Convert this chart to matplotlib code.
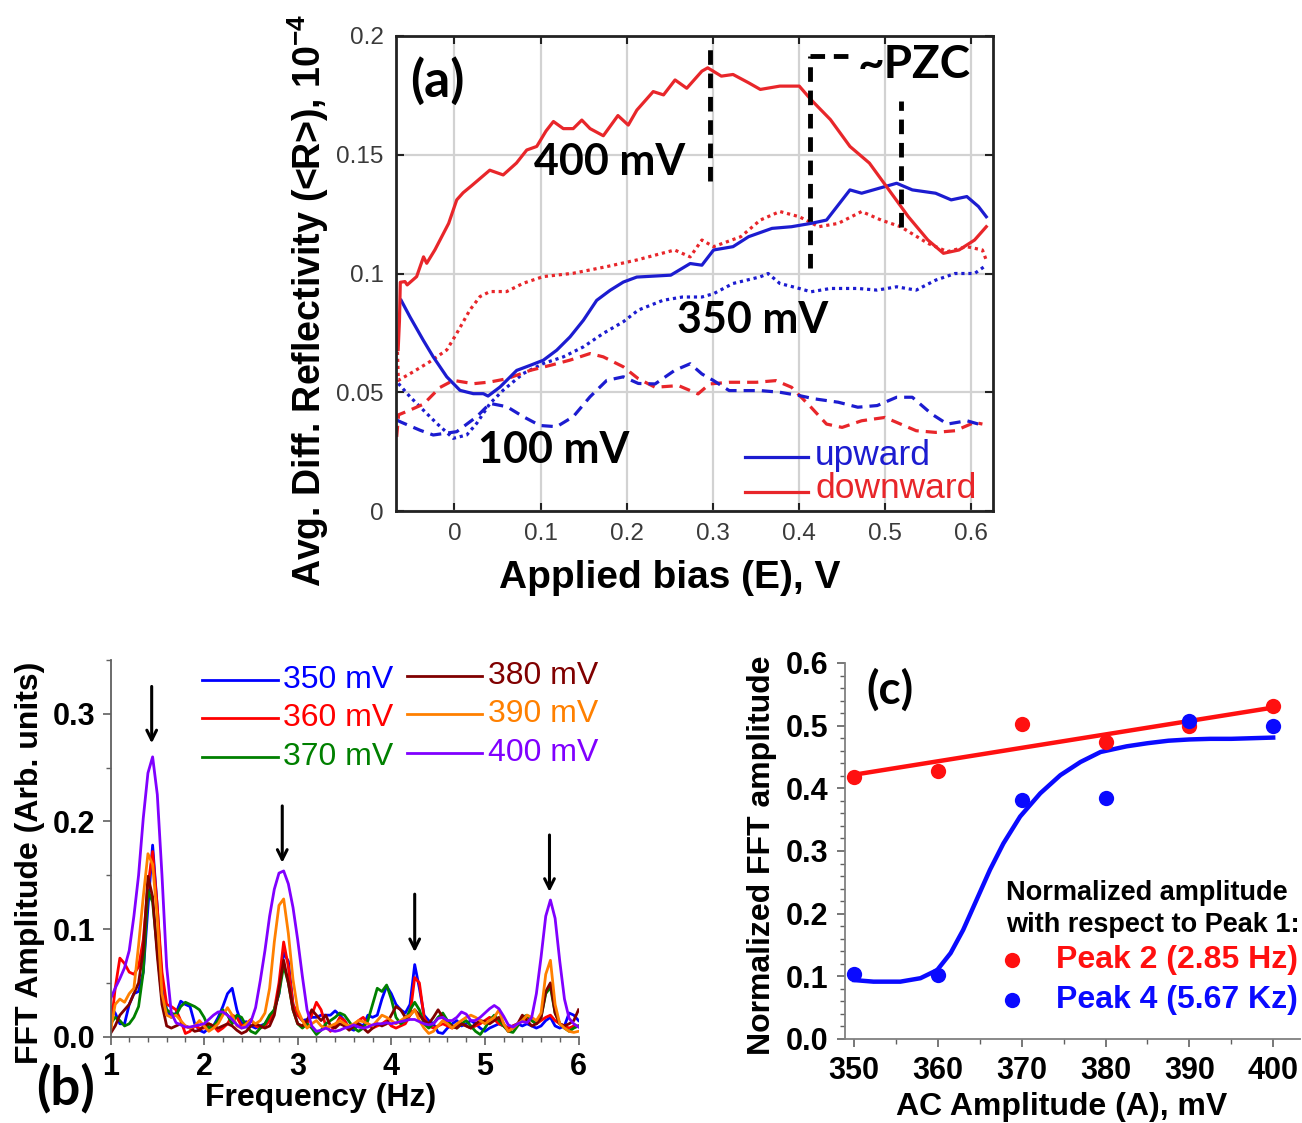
import numpy as np
import matplotlib
matplotlib.use('Agg')
import matplotlib.pyplot as plt
from matplotlib.lines import Line2D
from matplotlib.ticker import MultipleLocator, FormatStrFormatter

plt.rcParams['font.family'] = ['Liberation Sans', 'DejaVu Sans']
plt.rcParams['mathtext.fontset'] = 'custom'
plt.rcParams['mathtext.rm'] = 'Liberation Sans'
plt.rcParams['mathtext.bf'] = 'Liberation Sans:bold'
ANN = ['Lato', 'Liberation Sans', 'DejaVu Sans']

# ---------------- Panel (a) data ----------------
up400_x = [-0.0620, -0.0517, -0.0363, -0.0247, -0.0090, 0.0064, 0.0219, 0.0335, 0.0390, 0.0529, 0.0723,
           0.0878, 0.1033, 0.1188, 0.1343, 0.1498, 0.1653, 0.1808, 0.1963, 0.2119, 0.2514, 0.2740, 0.2876,
           0.3012, 0.3238, 0.3419, 0.3691, 0.3918, 0.4144, 0.4325, 0.4597, 0.4733, 0.4869, 0.5140, 0.5322,
           0.5593, 0.5774, 0.5956, 0.6091, 0.6182]
up400_y = [0.0887, 0.0817, 0.0719, 0.0649, 0.0565, 0.0508, 0.0494, 0.0494, 0.0484, 0.0522, 0.0592,
           0.0613, 0.0635, 0.0677, 0.0733, 0.0803, 0.0887, 0.0929, 0.0964, 0.0985, 0.0993, 0.1042, 0.1035,
           0.1099, 0.1113, 0.1155, 0.1190, 0.1197, 0.1211, 0.1225, 0.1352, 0.1338, 0.1352, 0.1380, 0.1352,
           0.1338, 0.1310, 0.1324, 0.1282, 0.1239]
down400_x = [-0.0655, -0.0640, -0.0630, -0.0576, -0.0550, -0.0440, -0.0360, -0.0323, -0.0227, -0.0068, 0.0026,
             0.0100, 0.0200, 0.0410, 0.0566, 0.0720, 0.0840, 0.0956, 0.1064, 0.1150, 0.1265, 0.1380, 0.1480,
             0.1576, 0.1730, 0.1900, 0.2020, 0.2120, 0.2310, 0.2430, 0.2564, 0.2700, 0.2876, 0.2944, 0.3102,
             0.3238, 0.3419, 0.3555, 0.3782, 0.4008, 0.4144, 0.4370, 0.4597, 0.4823, 0.5050, 0.5276, 0.5503,
             0.5684, 0.5865, 0.6046, 0.6182]
down400_y = [0.068, 0.080, 0.0963, 0.0966, 0.0952, 0.0987, 0.1070, 0.1043, 0.1100, 0.1211, 0.1310,
             0.1340, 0.1370, 0.1435, 0.1415, 0.1465, 0.1520, 0.1535, 0.1600, 0.1640, 0.1610, 0.1610, 0.1646,
             0.1610, 0.1580, 0.1665, 0.1625, 0.1688, 0.1766, 0.1752, 0.1815, 0.1780, 0.1852, 0.1866, 0.1831,
             0.1838, 0.1803, 0.1775, 0.1789, 0.1789, 0.1732, 0.1648, 0.1535, 0.1465, 0.1352, 0.1239, 0.1141,
             0.1085, 0.1099, 0.1141, 0.1197]
up350_x = [-0.0653, -0.0517, -0.0363, -0.0207, -0.0014, 0.0142, 0.0258, 0.0413, 0.0567, 0.0800, 0.1033,
           0.1265, 0.1498, 0.1730, 0.1963, 0.2137, 0.2423, 0.2649, 0.2876, 0.3012, 0.3238, 0.3555, 0.3646,
           0.3782, 0.4008, 0.4144, 0.4370, 0.4688, 0.4914, 0.5140, 0.5367, 0.5593, 0.5820, 0.6046, 0.6182]
up350_y = [0.0537, 0.0481, 0.0425, 0.0369, 0.0306, 0.0320, 0.0369, 0.0453, 0.0509, 0.0579, 0.0621,
           0.0649, 0.0691, 0.0748, 0.0797, 0.0846, 0.0887, 0.0901, 0.0901, 0.0915, 0.0958, 0.0986, 0.1000,
           0.0958, 0.0937, 0.0923, 0.0937, 0.0937, 0.0930, 0.0944, 0.0930, 0.0972, 0.1000, 0.1000, 0.1035]
down350_x = [-0.0665, -0.0653, -0.0480, -0.0285, -0.0090, 0.0026, 0.0180, 0.0297, 0.0413, 0.0607, 0.0800,
             0.1033, 0.1380, 0.1770, 0.2120, 0.2559, 0.2740, 0.2876, 0.3012, 0.3329, 0.3555, 0.3782, 0.4008,
             0.4235, 0.4461, 0.4733, 0.4959, 0.5186, 0.5503, 0.5729, 0.5956, 0.6137, 0.6182]
down350_y = [0.0700, 0.0550, 0.0586, 0.0629, 0.0678, 0.0748, 0.0847, 0.0903, 0.0924, 0.0924, 0.0959,
             0.0987, 0.1001, 0.1029, 0.1057, 0.1099, 0.1070, 0.1141, 0.1113, 0.1155, 0.1225, 0.1261, 0.1239,
             0.1197, 0.1211, 0.1261, 0.1225, 0.1197, 0.1127, 0.1092, 0.1113, 0.1099, 0.1056]
up100_x = [-0.0672, -0.0620, -0.0400, -0.0247, 0.0026, 0.0258, 0.0413, 0.0610, 0.0800, 0.0994, 0.1188,
           0.1380, 0.1576, 0.1770, 0.1963, 0.2137, 0.2332, 0.2559, 0.2740, 0.2876, 0.3012, 0.3193, 0.3555,
           0.3782, 0.4008, 0.4189, 0.4461, 0.4688, 0.4914, 0.5140, 0.5322, 0.5548, 0.5729, 0.5956, 0.6091]
up100_y = [0.0383, 0.0374, 0.0340, 0.0320, 0.0334, 0.0397, 0.0453, 0.0439, 0.0397, 0.0360, 0.0355,
           0.0397, 0.0481, 0.0550, 0.0565, 0.0537, 0.0535, 0.0592, 0.0620, 0.0577, 0.0549, 0.0507, 0.0507,
           0.0500, 0.0486, 0.0472, 0.0458, 0.0437, 0.0444, 0.0479, 0.0479, 0.0408, 0.0366, 0.0380, 0.0366]
down100_x = [-0.0672, -0.0650, -0.0517, -0.0360, -0.0170, -0.0014, 0.0220, 0.0410, 0.0610, 0.0880, 0.1110,
             0.1340, 0.1576, 0.1730, 0.1963, 0.2137, 0.2332, 0.2604, 0.2831, 0.2966, 0.3193, 0.3510, 0.3736,
             0.3918, 0.4144, 0.4325, 0.4506, 0.4733, 0.5005, 0.5186, 0.5367, 0.5593, 0.5820, 0.6046, 0.6137]
down100_y = [0.0312, 0.0405, 0.0425, 0.0450, 0.0520, 0.0550, 0.0536, 0.0543, 0.0557, 0.0592, 0.0613,
             0.0635, 0.0663, 0.0649, 0.0607, 0.0557, 0.0521, 0.0528, 0.0493, 0.0535, 0.0542, 0.0542, 0.0549,
             0.0521, 0.0437, 0.0366, 0.0352, 0.0380, 0.0394, 0.0366, 0.0338, 0.0331, 0.0338, 0.0373, 0.0366]

a_xticks = [0, 0.1, 0.2, 0.3, 0.4, 0.5, 0.6]
a_yticks = [0, 0.05, 0.1, 0.15, 0.2]
a_yticklabels = ['0', '0.05', '0.1', '0.15', '0.2']
# annotation marker lines (x, y_bottom, y_top)
pzc_marks = [(0.297, 0.139, 0.1945), (0.4135, 0.1025, 0.1915), (0.5186, 0.1197, 0.1725)]
pzc_bracket = (0.4135, 0.458, 0.1915)

# ---------------- Panel (b) data ----------------
freq = np.linspace(1.0, 6.0, 101)
fft_350 = [0.028, 0.022, 0.012, 0.012, 0.030, 0.040, 0.042, 0.060, 0.120, 0.178, 0.120, 0.050, 0.025, 0.018, 0.022, 0.033, 0.030, 0.028, 0.012, 0.006,
           0.004, 0.008, 0.010, 0.018, 0.028, 0.040, 0.045, 0.025, 0.012, 0.014, 0.010, 0.008, 0.010, 0.012, 0.018, 0.025, 0.040, 0.078, 0.070, 0.030,
           0.020, 0.015, 0.016, 0.018, 0.018, 0.020, 0.020, 0.020, 0.024, 0.020, 0.015, 0.008, 0.006, 0.012, 0.010, 0.020, 0.018, 0.020, 0.035, 0.047,
           0.040, 0.030, 0.025, 0.022, 0.030, 0.067, 0.045, 0.020, 0.015, 0.012, 0.004, 0.003, 0.008, 0.012, 0.015, 0.010, 0.012, 0.015, 0.012, 0.008,
           0.005, 0.008, 0.010, 0.012, 0.010, 0.008, 0.010, 0.012, 0.010, 0.012, 0.010, 0.008, 0.010, 0.015, 0.018, 0.010, 0.008, 0.010, 0.022, 0.020,
           0.015]
fft_360 = [0.005, 0.045, 0.073, 0.068, 0.060, 0.058, 0.065, 0.090, 0.140, 0.172, 0.120, 0.060, 0.030, 0.028, 0.025, 0.015, 0.003, 0.005, 0.010, 0.008,
           0.008, 0.012, 0.010, 0.005, 0.008, 0.012, 0.020, 0.018, 0.010, 0.012, 0.016, 0.010, 0.008, 0.010, 0.015, 0.025, 0.050, 0.088, 0.065, 0.030,
           0.020, 0.015, 0.012, 0.020, 0.032, 0.025, 0.010, 0.005, 0.010, 0.018, 0.015, 0.008, 0.010, 0.015, 0.018, 0.012, 0.008, 0.010, 0.012, 0.015,
           0.010, 0.008, 0.010, 0.012, 0.020, 0.055, 0.050, 0.018, 0.010, 0.008, 0.010, 0.012, 0.010, 0.008, 0.010, 0.012, 0.010, 0.008, 0.010, 0.012,
           0.015, 0.018, 0.016, 0.012, 0.010, 0.008, 0.010, 0.012, 0.015, 0.018, 0.015, 0.012, 0.015, 0.018, 0.020, 0.015, 0.012, 0.010, 0.008, 0.010,
           0.010]
fft_370 = [0.012, 0.018, 0.015, 0.010, 0.012, 0.018, 0.028, 0.060, 0.136, 0.125, 0.080, 0.035, 0.025, 0.022, 0.020, 0.028, 0.032, 0.030, 0.028, 0.025,
           0.018, 0.008, 0.010, 0.015, 0.025, 0.020, 0.012, 0.020, 0.018, 0.010, 0.005, 0.003, 0.008, 0.012, 0.020, 0.025, 0.040, 0.066, 0.050, 0.025,
           0.012, 0.008, 0.012, 0.008, 0.002, 0.006, 0.012, 0.015, 0.018, 0.022, 0.020, 0.014, 0.008, 0.005, 0.008, 0.015, 0.030, 0.045, 0.042, 0.048,
           0.035, 0.018, 0.012, 0.015, 0.025, 0.032, 0.025, 0.012, 0.008, 0.012, 0.018, 0.022, 0.015, 0.010, 0.008, 0.012, 0.015, 0.010, 0.005, 0.002,
           0.008, 0.015, 0.020, 0.015, 0.010, 0.005, 0.004, 0.010, 0.018, 0.020, 0.015, 0.012, 0.018, 0.040, 0.046, 0.022, 0.012, 0.008, 0.005, 0.008,
           0.010]
fft_380 = [0.003, 0.010, 0.020, 0.025, 0.030, 0.040, 0.050, 0.080, 0.149, 0.130, 0.075, 0.030, 0.010, 0.008, 0.010, 0.012, 0.010, 0.008, 0.005, 0.006,
           0.010, 0.012, 0.010, 0.008, 0.010, 0.012, 0.010, 0.006, 0.003, 0.005, 0.010, 0.012, 0.010, 0.008, 0.010, 0.020, 0.045, 0.071, 0.050, 0.025,
           0.012, 0.010, 0.015, 0.025, 0.020, 0.015, 0.020, 0.010, 0.008, 0.012, 0.010, 0.006, 0.010, 0.012, 0.008, 0.004, 0.008, 0.012, 0.010, 0.012,
           0.020, 0.028, 0.025, 0.018, 0.020, 0.025, 0.020, 0.015, 0.012, 0.018, 0.025, 0.018, 0.012, 0.010, 0.008, 0.012, 0.010, 0.008, 0.012, 0.015,
           0.014, 0.012, 0.015, 0.018, 0.012, 0.005, 0.008, 0.012, 0.020, 0.015, 0.010, 0.012, 0.018, 0.042, 0.050, 0.022, 0.012, 0.010, 0.012, 0.015,
           0.025]
fft_390 = [0.005, 0.030, 0.035, 0.032, 0.040, 0.045, 0.085, 0.130, 0.170, 0.160, 0.110, 0.040, 0.020, 0.018, 0.020, 0.015, 0.010, 0.008, 0.010, 0.015,
           0.010, 0.005, 0.008, 0.012, 0.020, 0.027, 0.020, 0.010, 0.008, 0.012, 0.015, 0.012, 0.015, 0.022, 0.045, 0.088, 0.122, 0.128, 0.096, 0.053,
           0.025, 0.015, 0.008, 0.012, 0.015, 0.010, 0.008, 0.010, 0.012, 0.015, 0.012, 0.010, 0.012, 0.015, 0.014, 0.012, 0.010, 0.015, 0.020, 0.018,
           0.015, 0.012, 0.015, 0.018, 0.020, 0.025, 0.015, 0.008, 0.003, 0.005, 0.010, 0.015, 0.012, 0.008, 0.012, 0.015, 0.018, 0.020, 0.018, 0.015,
           0.012, 0.015, 0.018, 0.025, 0.012, 0.005, 0.008, 0.012, 0.015, 0.020, 0.018, 0.015, 0.022, 0.058, 0.071, 0.030, 0.012, 0.008, 0.005, 0.004,
           0.005]
fft_400 = [0.035, 0.045, 0.054, 0.064, 0.080, 0.112, 0.150, 0.203, 0.245, 0.260, 0.225, 0.150, 0.065, 0.022, 0.013, 0.011, 0.009, 0.009, 0.010, 0.011,
           0.012, 0.016, 0.020, 0.023, 0.023, 0.020, 0.016, 0.011, 0.008, 0.009, 0.014, 0.027, 0.052, 0.080, 0.112, 0.137, 0.152, 0.154, 0.142, 0.120,
           0.090, 0.056, 0.025, 0.010, 0.005, 0.006, 0.008, 0.006, 0.005, 0.006, 0.008, 0.009, 0.011, 0.009, 0.008, 0.009, 0.011, 0.012, 0.012, 0.013,
           0.012, 0.013, 0.014, 0.015, 0.016, 0.016, 0.014, 0.012, 0.011, 0.012, 0.017, 0.018, 0.015, 0.015, 0.018, 0.023, 0.021, 0.015, 0.015, 0.018,
           0.022, 0.026, 0.029, 0.026, 0.019, 0.011, 0.009, 0.012, 0.014, 0.013, 0.018, 0.040, 0.074, 0.112, 0.127, 0.110, 0.070, 0.035, 0.017, 0.012,
           0.009]
b_labels = ['350 mV', '360 mV', '370 mV', '380 mV', '390 mV', '400 mV']
b_colors = ['#0000ff', '#ff0000', '#008000', '#800000', '#ff8000', '#8000ff']
# peak arrows: (freq, y_start, y_tip)
b_arrows = [(1.44, 0.328, 0.270), (2.835, 0.217, 0.159), (4.25, 0.135, 0.076), (5.69, 0.190, 0.132)]

# ---------------- Panel (c) data ----------------
ac_amp = [350, 360, 370, 380, 390, 400]
peak2 = [0.418, 0.428, 0.502, 0.474, 0.499, 0.531]
peak4 = [0.104, 0.102, 0.382, 0.385, 0.508, 0.500]
fit4_x = [350, 352.3, 355.5, 357.9, 359.9, 361.5, 363.0, 364.6, 366.2, 367.8, 369.8, 372.2, 374.6, 377.0,
          379.4, 382.5, 385, 387.5, 390, 392.5, 395, 397.5, 400]
fit4_y = [0.094, 0.0915, 0.0915, 0.097, 0.110, 0.137, 0.174, 0.222, 0.270, 0.312, 0.355, 0.392, 0.421, 0.442,
          0.458, 0.467, 0.472, 0.476, 0.478, 0.479, 0.479, 0.480, 0.481]

# ---------------- Figure ----------------
W, H = 1302, 1123
fig = plt.figure(figsize=(W / 100, H / 100), dpi=100)


def fx(px):
    return px / W


def fy(py):
    return 1 - py / H


RED = '#e8262a'
BLUE = '#1c1cd0'

# ---- (a) ----
axA = fig.add_axes([fx(396), fy(511), (993 - 396) / W, (511 - 36) / H])
axA.set_xlim(-0.068, 0.626)
axA.set_ylim(0, 0.2)
axA.plot(down350_x, down350_y, color=RED, lw=2.3, ls=(0, (1, 1.2)))
axA.plot(up350_x, up350_y, color=BLUE, lw=2.3, ls=(0, (1, 1.2)))
axA.plot(down100_x, down100_y, color=RED, lw=2.3, ls=(0, (3.5, 2.2)))
axA.plot(up100_x, up100_y, color=BLUE, lw=2.3, ls=(0, (3.5, 2.2)))
axA.plot(up400_x, up400_y, color=BLUE, lw=2.3)
axA.plot(down400_x, down400_y, color=RED, lw=2.3)
for xm, yb, yt in pzc_marks:
    axA.plot([xm, xm], [yb, yt], color='black', lw=3.5, ls=(0, (3, 1.8)))
axA.plot([pzc_bracket[0], pzc_bracket[1]], [pzc_bracket[2], pzc_bracket[2]], color='black', lw=3.5,
         ls=(0, (3, 1.8)))
axA.set_xticks(a_xticks)
axA.set_xticklabels([('%g' % v) for v in a_xticks])
axA.set_yticks(a_yticks)
axA.set_yticklabels(a_yticklabels)
axA.grid(True, color='#d2d2d2', lw=1.6)
axA.set_axisbelow(True)
axA.tick_params(direction='in', length=6, width=1.5, top=True, right=True, labelsize=17.5,
                labelcolor='#3a3a3a', color='#222222', pad=9)
for s in axA.spines.values():
    s.set_color('#222222')
    s.set_linewidth(2)
fig.text(fx(437), fy(81), '(a)', ha='center', va='center', fontsize=37, fontweight='bold', family=ANN)
fig.text(fx(610), fy(162), '400 mV', ha='center', va='center', fontsize=31, fontweight='bold', family=ANN)
fig.text(fx(753), fy(320), '350 mV', ha='center', va='center', fontsize=31, fontweight='bold', family=ANN)
fig.text(fx(554), fy(450), '100 mV', ha='center', va='center', fontsize=31, fontweight='bold', family=ANN)
fig.text(fx(914), fy(65), '~PZC', ha='center', va='center', fontsize=33, fontweight='bold', family=ANN)
fig.add_artist(Line2D([fx(745), fx(808)], [fy(457), fy(457)], color=BLUE, lw=2.3))
fig.add_artist(Line2D([fx(745), fx(808)], [fy(492), fy(492)], color=RED, lw=2.3))
fig.text(fx(815), fy(455), 'upward', ha='left', va='center', fontsize=25.5, color=BLUE)
fig.text(fx(815), fy(489), 'downward', ha='left', va='center', fontsize=25.5, color=RED)
fig.text(fx(308), fy(300), r'Avg. Diff. Reflectivity (<R>), 10$^{\mathbf{-4}}$', rotation=90,
         ha='center', va='center', fontsize=27, fontweight='bold')
fig.text(fx(670), fy(578), 'Applied bias (E), V', ha='center', va='center', fontsize=28, fontweight='bold')

# ---- (b) ----
axB = fig.add_axes([fx(110.5), fy(1036.7), 468 / W, (1036.7 - 660) / H])
axB.set_xlim(1, 6)
axB.set_ylim(0, 0.35)
for vals, lab, col in zip([fft_350, fft_360, fft_370, fft_380, fft_390, fft_400], b_labels, b_colors):
    axB.plot(freq, vals, color=col, lw=2, label=lab)
for f0, y0, y1 in b_arrows:
    axB.annotate('', xy=(f0, y1), xytext=(f0, y0),
                 arrowprops=dict(arrowstyle='->,head_length=0.7,head_width=0.35', color='black', lw=2.2))
for side in ['top', 'right']:
    axB.spines[side].set_visible(False)
for side in ['left', 'bottom']:
    axB.spines[side].set_color('#606060')
    axB.spines[side].set_linewidth(1.3)
axB.xaxis.set_major_locator(MultipleLocator(1))
axB.xaxis.set_minor_locator(MultipleLocator(0.2))
axB.yaxis.set_major_locator(MultipleLocator(0.1))
axB.yaxis.set_minor_locator(MultipleLocator(0.05))
axB.yaxis.set_major_formatter(FormatStrFormatter('%.1f'))
axB.tick_params(which='major', direction='out', length=6, width=1.2, color='#606060', labelsize=22, pad=5)
axB.tick_params(which='minor', direction='out', length=3.5, width=1.0, color='#606060')
for lbl in axB.get_xticklabels() + axB.get_yticklabels():
    lbl.set_fontweight('bold')
# legend of (b)
leg_rows = [680, 718, 757]
for i, (lab, col) in enumerate(zip(b_labels, b_colors)):
    colx = i // 3
    row = i % 3
    x0, x1, xt = (202, 278, 283) if colx == 0 else (407, 482, 488)
    yy = leg_rows[row] + (0 if colx == 0 else -4)
    fig.add_artist(Line2D([fx(x0), fx(x1)], [fy(yy), fy(yy)], color=col, lw=2))
    fig.text(fx(xt), fy(yy), lab, ha='left', va='center', fontsize=23, color=col)
fig.text(fx(30), fy(863), 'FFT Amplitude (Arb. units)', rotation=90, ha='center', va='center',
         fontsize=23, fontweight='bold')
fig.text(fx(321), fy(1098), 'Frequency (Hz)', ha='center', va='center', fontsize=23, fontweight='bold')
fig.text(fx(66), fy(1088), '(b)', ha='center', va='center', fontsize=38, fontweight='bold', family=ANN)

# ---- (c) ----
axC = fig.add_axes([fx(845), fy(1039), (1300 - 845) / W, (1039 - 663) / H])
axC.set_xlim(348.9, 403.2)
axC.set_ylim(0, 0.6)
coef = np.polyfit(ac_amp, peak2, 1)
axC.plot([ac_amp[0], ac_amp[-1]], np.polyval(coef, [ac_amp[0], ac_amp[-1]]), color='#ff1010', lw=3.2)
axC.plot(fit4_x, fit4_y, color='#0a0aff', lw=3.2)
axC.plot(ac_amp, peak2, 'o', color='#ff1010', ms=11, mec='none')
axC.plot(ac_amp, peak4, 'o', color='#0a0aff', ms=11, mec='none')
for side in ['top', 'right']:
    axC.spines[side].set_visible(False)
for side in ['left', 'bottom']:
    axC.spines[side].set_color('#808080')
    axC.spines[side].set_linewidth(1.3)
axC.xaxis.set_major_locator(MultipleLocator(10))
axC.xaxis.set_minor_locator(MultipleLocator(5))
axC.yaxis.set_major_locator(MultipleLocator(0.1))
axC.yaxis.set_minor_locator(MultipleLocator(0.02))
axC.yaxis.set_major_formatter(FormatStrFormatter('%.1f'))
axC.tick_params(which='major', direction='out', length=6, width=1.2, color='#606060', labelsize=22, pad=6)
axC.tick_params(which='minor', direction='out', length=3.5, width=1.0, color='#606060')
for lbl in axC.get_xticklabels() + axC.get_yticklabels():
    lbl.set_fontweight('bold')
fig.text(fx(890), fy(690), '(c)', ha='center', va='center', fontsize=33, fontweight='bold', family=ANN)
fig.text(fx(1006), fy(893), 'Normalized amplitude', ha='left', va='center', fontsize=19.5, fontweight='bold')
fig.text(fx(1006), fy(925), 'with respect to Peak 1:', ha='left', va='center', fontsize=19.5, fontweight='bold')
fig.add_artist(Line2D([fx(1012)], [fy(960)], marker='o', color='#ff1010', ms=11, mec='none'))
fig.add_artist(Line2D([fx(1012)], [fy(1000)], marker='o', color='#0a0aff', ms=11, mec='none'))
fig.text(fx(1056), fy(960), 'Peak 2 (2.85 Hz)', ha='left', va='center', fontsize=23, fontweight='bold',
         color='#ff1010')
fig.text(fx(1056), fy(1000), 'Peak 4 (5.67 Kz)', ha='left', va='center', fontsize=23, fontweight='bold',
         color='#0a0aff')
fig.text(fx(762), fy(855), 'Normalized FFT amplitude', rotation=90, ha='center', va='center',
         fontsize=23, fontweight='bold')
fig.text(fx(1062), fy(1107), 'AC Amplitude (A), mV', ha='center', va='center', fontsize=23, fontweight='bold')

fig.savefig('out.png', dpi=100)
